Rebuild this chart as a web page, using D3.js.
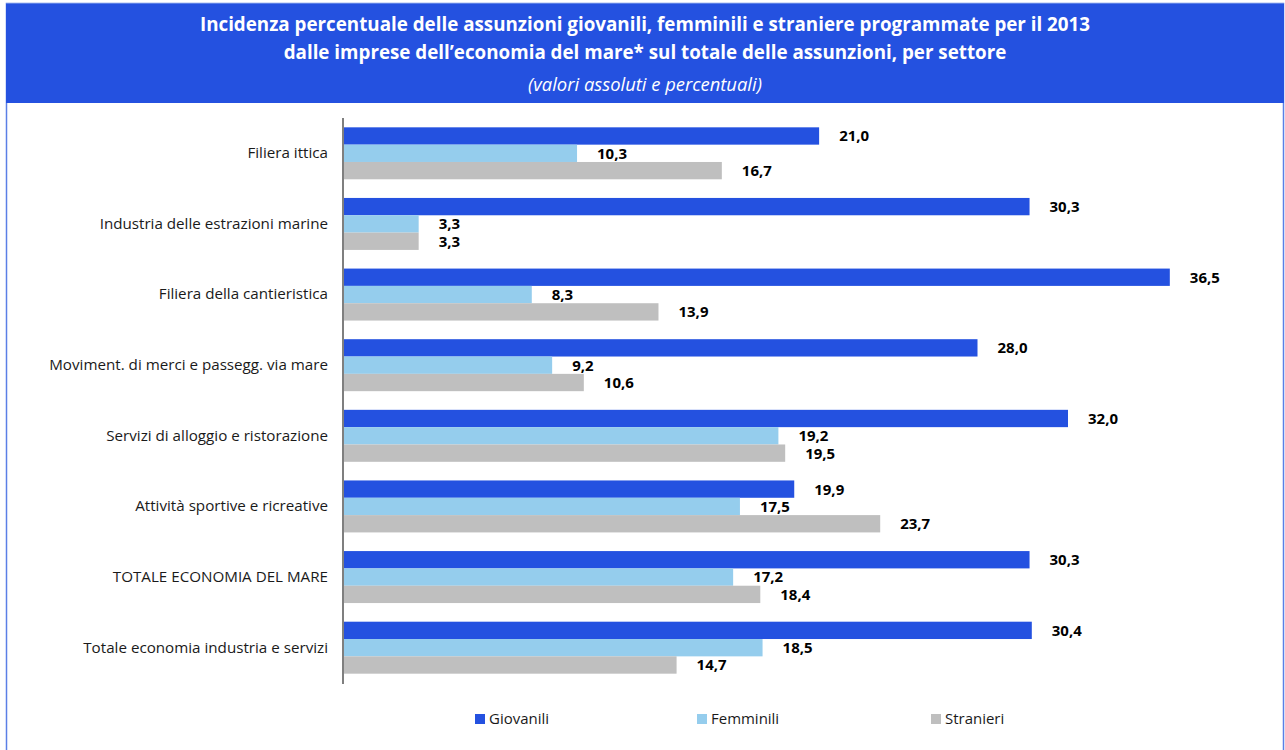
<!DOCTYPE html>
<html>
<head>
<meta charset="utf-8">
<script src="https://cdn.jsdelivr.net/npm/d3@7"></script>
<style>
  html, body { margin: 0; padding: 0; background: #fff; }
  svg { display: block; }
</style>
</head>
<body>
<svg id="chart" width="1285" height="750"></svg>
<script>
// Sectors (top to bottom)
const categories = [
  "Filiera ittica",
  "Industria delle estrazioni marine",
  "Filiera della cantieristica",
  "Moviment. di merci e passegg. via mare",
  "Servizi di alloggio e ristorazione",
  "Attività sportive e ricreative",
  "TOTALE ECONOMIA DEL MARE",
  "Totale economia industria e servizi"
];
const seriesNames = ["Giovanili", "Femminili", "Stranieri"];
const giovanili = [21.0, 30.3, 36.5, 28.0, 32.0, 19.9, 30.3, 30.4];
const femminili = [10.3, 3.3, 8.3, 9.2, 19.2, 17.5, 17.2, 18.5];
const stranieri = [16.7, 3.3, 13.9, 10.6, 19.5, 23.7, 18.4, 14.7];
const colors = ["#2451E0", "#95CDED", "#BFBFBF"];

const titleLines = [
  "Incidenza percentuale delle assunzioni giovanili, femminili e straniere programmate per il 2013",
  "dalle imprese dell\u2019economia del mare* sul totale delle assunzioni, per settore"
];
const subtitle = "(valori assoluti e percentuali)";

const values = [giovanili, femminili, stranieri];
const rows = categories.map((c, i) => ({
  cat: c,
  vals: seriesNames.map((s, j) => ({ series: s, idx: j, value: values[j][i] }))
}));

const svg = d3.select("#chart");
const fmt = v => v.toFixed(1).replace(".", ",");
const font = "'Open Sans', sans-serif";

// Pick a font size so that a sample string spans the wanted width
function fitSize(sample, width, attrs) {
  const t = svg.append("text").attr("font-family", font).attr("font-size", 20);
  Object.entries(attrs || {}).forEach(([k, v]) => t.attr(k, v));
  t.text(sample);
  const w = t.node().getComputedTextLength();
  t.remove();
  return 20 * width / w;
}
const titleSize = fitSize(titleLines[0], 891, { "font-weight": "bold" });
const subSize = fitSize(subtitle, 234, { "font-style": "italic" });
const catSize = fitSize(categories[3], 279);
const valSize = fitSize("21,0", 30, { "font-weight": "bold" });
const legSize = fitSize("Giovanili", 60);

// Frame and header band
svg.append("rect")
  .attr("x", 6.5).attr("y", 3.5).attr("width", 1277).attr("height", 760)
  .attr("fill", "#fff").attr("stroke", "#5B7FE6").attr("stroke-width", 1.5);
svg.append("rect")
  .attr("x", 6).attr("y", 4).attr("width", 1278).attr("height", 99)
  .attr("fill", "#2451E0");

svg.selectAll("text.title")
  .data(titleLines)
  .join("text")
  .attr("class", "title")
  .attr("x", 645).attr("y", (d, i) => 31 + i * 28)
  .attr("text-anchor", "middle")
  .attr("fill", "#fff")
  .attr("font-family", font)
  .attr("font-weight", "bold")
  .attr("font-size", titleSize)
  .text(d => d);

svg.append("text")
  .attr("x", 645).attr("y", 91)
  .attr("text-anchor", "middle")
  .attr("fill", "#fff")
  .attr("font-family", font)
  .attr("font-style", "italic")
  .attr("font-size", subSize)
  .text(subtitle);

// Scales
const x = d3.scaleLinear().domain([0, 40]).range([344, 1249]);
const y = d3.scaleBand().domain(categories).range([118, 683]).paddingInner(0.264).paddingOuter(0.132);
const ySub = d3.scaleBand().domain(seriesNames).range([0, y.bandwidth()]);

// Category axis
const yAxis = d3.axisLeft(y).tickSize(0).tickPadding(16);
const gAxis = svg.append("g").attr("transform", `translate(${x(0)},0)`).call(yAxis);
gAxis.select(".domain").remove();
gAxis.selectAll("text")
  .attr("font-family", font)
  .attr("font-size", catSize)
  .attr("fill", "#1a1a1a");

// Bars
const groups = svg.append("g").selectAll("g")
  .data(rows)
  .join("g")
  .attr("transform", d => `translate(0,${y(d.cat)})`);

groups.selectAll("rect")
  .data(d => d.vals)
  .join("rect")
  .attr("x", x(0))
  .attr("y", d => ySub(d.series))
  .attr("width", d => x(d.value) - x(0))
  .attr("height", ySub.bandwidth())
  .attr("fill", d => colors[d.idx]);

groups.selectAll("text")
  .data(d => d.vals)
  .join("text")
  .attr("x", d => x(d.value) + 20)
  .attr("y", d => ySub(d.series) + ySub.bandwidth() / 2)
  .attr("dy", "0.36em")
  .attr("font-family", font)
  .attr("font-weight", "bold")
  .attr("font-size", valSize)
  .attr("fill", "#000")
  .text(d => fmt(d.value));

// Vertical axis line
svg.append("line")
  .attr("x1", x(0) - 1).attr("x2", x(0) - 1)
  .attr("y1", 118).attr("y2", 684)
  .attr("stroke", "#7f7f7f").attr("stroke-width", 2);

// Legend
const legendX = [475, 697, 931];
const lg = svg.append("g").selectAll("g")
  .data(seriesNames)
  .join("g")
  .attr("transform", (d, i) => `translate(${legendX[i]},714)`);
lg.append("rect").attr("width", 10).attr("height", 10).attr("fill", (d, i) => colors[i]);
lg.append("text")
  .attr("x", 14).attr("y", 5).attr("dy", "0.36em")
  .attr("font-family", font)
  .attr("font-size", legSize)
  .attr("fill", "#1a1a1a")
  .text(d => d);
</script>
</body>
</html>
